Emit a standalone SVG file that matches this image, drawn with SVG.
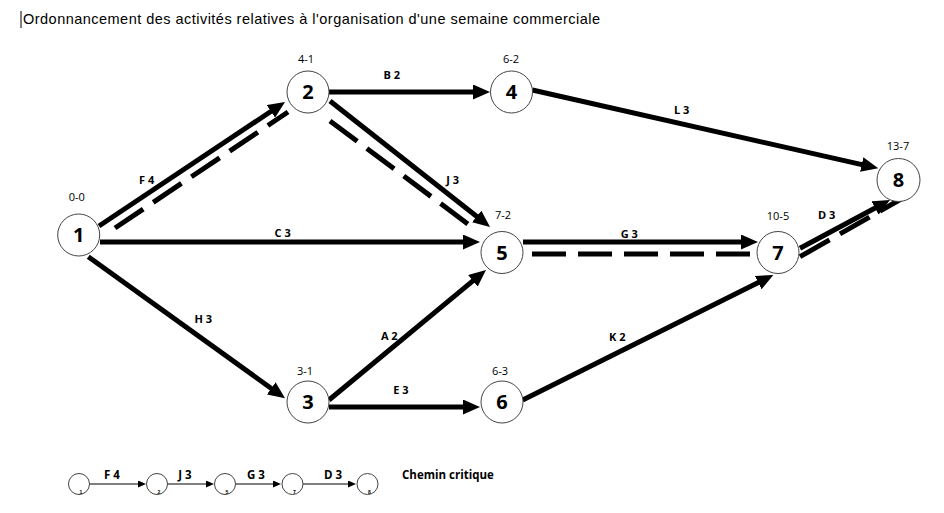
<svg xmlns="http://www.w3.org/2000/svg" width="944" height="513" viewBox="0 0 944 513">
<defs>
<marker id="ah" markerUnits="userSpaceOnUse" markerWidth="17" markerHeight="15" viewBox="0 0 17 15" refX="7" refY="7.5" orient="auto">
<path d="M0,0 L17,7.5 L0,15 z" fill="#000"/>
</marker>
<marker id="ahs" markerUnits="userSpaceOnUse" markerWidth="8" markerHeight="7" viewBox="0 0 8 7" refX="1" refY="3.5" orient="auto">
<path d="M0,0 L8,3.5 L0,7 z" fill="#000"/>
</marker>
</defs>
<style>
.e{stroke:#000;stroke-width:5;fill:none;marker-end:url(#ah)}
.d{stroke:#000;stroke-width:5;fill:none;stroke-dasharray:34 12}
.ls{stroke:#000;stroke-width:1;fill:none;marker-end:url(#ahs)}
.n{fill:#fff;stroke:#444;stroke-width:1}
.num{font-family:"Open Sans","Liberation Sans",sans-serif;font-weight:bold;font-size:20px;text-anchor:middle;fill:#000}
.val{font-family:"Open Sans","Liberation Sans",sans-serif;font-size:11px;text-anchor:middle;fill:#000}
.lab{font-family:"Open Sans","Liberation Sans",sans-serif;font-weight:bold;font-size:11px;text-anchor:middle;fill:#000}
.leg{font-family:"Open Sans","Liberation Sans",sans-serif;font-weight:bold;font-size:11.5px;text-anchor:middle;fill:#000}
.tiny{font-family:"Liberation Sans",sans-serif;font-weight:bold;font-size:5px;text-anchor:middle;fill:#000}
.title{font-family:"Liberation Sans",Arial,sans-serif;font-size:14.5px;fill:#000}
</style>
<rect width="944" height="513" fill="#fff"/>
<line x1="21" y1="11" x2="21" y2="28" stroke="#000" stroke-width="1"/>
<text class="title" x="23" y="24" textLength="577" lengthAdjust="spacing">Ordonnancement des activités relatives à l'organisation d'une semaine commerciale</text>

<g id="connectors">
<line class="e" x1="99" y1="226" x2="276.7" y2="107.5"/>
<line class="d" x1="115" y1="228" x2="288" y2="112"/>
<line class="e" x1="329" y1="92" x2="480" y2="92"/>
<line class="e" x1="330" y1="101" x2="482.2" y2="220.8"/>
<line class="d" x1="330" y1="121" x2="472" y2="227"/>
<line class="e" x1="100" y1="242" x2="470" y2="242"/>
<line class="e" x1="88.3" y1="256.7" x2="276.9" y2="392.5"/>
<line class="e" x1="523" y1="242" x2="748" y2="242"/>
<line class="d" x1="532" y1="254" x2="757" y2="254"/>
<line class="e" x1="329" y1="400" x2="478.3" y2="276.4"/>
<line class="e" x1="329" y1="407" x2="470" y2="407"/>
<line class="e" x1="522.7" y1="400" x2="764.4" y2="279.5"/>
<line class="e" x1="532.3" y1="90" x2="868.5" y2="166.1"/>
<line class="e" x1="800" y1="248.3" x2="881.2" y2="204.7"/>
<line class="d" x1="800" y1="256.7" x2="902" y2="198.5"/>
<text class="lab" x="146.7" y="184">F 4</text>
<text class="lab" x="391.7" y="79">B 2</text>
<text class="lab" x="452.7" y="184">J 3</text>
<text class="lab" x="282.7" y="236.5">C 3</text>
<text class="lab" x="203.3" y="323">H 3</text>
<text class="lab" x="629.3" y="237.5">G 3</text>
<text class="lab" x="389.3" y="340">A 2</text>
<text class="lab" x="401" y="393.5">E 3</text>
<text class="lab" x="617.3" y="340.5">K 2</text>
<text class="lab" x="681.7" y="114">L 3</text>
<text class="lab" x="826.7" y="219">D 3</text>
</g>

<g id="node-1"><circle class="n" cx="78.7" cy="235" r="21"/><text class="num" x="78.7" y="242">1</text><text class="val" x="76.7" y="201">0-0</text></g>
<g id="node-2"><circle class="n" cx="308" cy="92" r="21"/><text class="num" x="308" y="99">2</text><text class="val" x="306" y="62.5">4-1</text></g>
<g id="node-4"><circle class="n" cx="511.5" cy="92" r="21"/><text class="num" x="511.5" y="99">4</text><text class="val" x="511" y="62.5">6-2</text></g>
<g id="node-5"><circle class="n" cx="502" cy="252.5" r="21"/><text class="num" x="502" y="259.5">5</text><text class="val" x="503" y="219">7-2</text></g>
<g id="node-3"><circle class="n" cx="308" cy="402" r="21"/><text class="num" x="308" y="409">3</text><text class="val" x="305" y="375">3-1</text></g>
<g id="node-6"><circle class="n" cx="502" cy="402" r="21"/><text class="num" x="502" y="409">6</text><text class="val" x="500" y="375">6-3</text></g>
<g id="node-7"><circle class="n" cx="778" cy="252.5" r="21"/><text class="num" x="778" y="259.5">7</text><text class="val" x="778" y="220">10-5</text></g>
<g id="node-8"><circle class="n" cx="898.5" cy="180" r="21.5"/><text class="num" x="898.5" y="187">8</text><text class="val" x="898" y="150">13-7</text></g>

<g id="legend">
<g id="legend-connectors">
<line class="ls" x1="89.5" y1="484" x2="139" y2="484"/>
<line class="ls" x1="167.5" y1="484" x2="207" y2="484"/>
<line class="ls" x1="235.5" y1="484" x2="274" y2="484"/>
<line class="ls" x1="303" y1="484" x2="349" y2="484"/>
<text class="leg" x="112" y="479">F 4</text>
<text class="leg" x="185" y="479">J 3</text>
<text class="leg" x="256" y="479">G 3</text>
<text class="leg" x="333" y="479">D 3</text>
</g>
<g id="legend-n1"><circle class="n" cx="79" cy="484" r="10.5"/><text class="tiny" x="81" y="494">1</text></g>
<g id="legend-n2"><circle class="n" cx="157" cy="484" r="10.5"/><text class="tiny" x="159" y="494">2</text></g>
<g id="legend-n5"><circle class="n" cx="225" cy="484" r="10.5"/><text class="tiny" x="227" y="494">5</text></g>
<g id="legend-n7"><circle class="n" cx="292.5" cy="484" r="10.5"/><text class="tiny" x="294.5" y="494">7</text></g>
<g id="legend-n8"><circle class="n" cx="367.5" cy="484" r="10.5"/><text class="tiny" x="369.5" y="494">8</text></g>
<text class="leg" x="402" y="479" style="text-anchor:start">Chemin critique</text>
</g>
</svg>
